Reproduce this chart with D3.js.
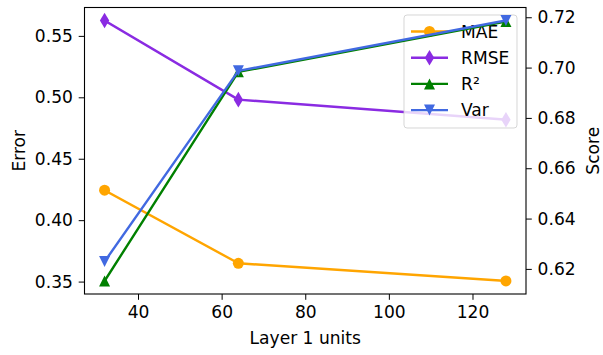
<html>
<head>
<style>
  body { margin: 0; background: #fff; }
  text { font-family: "DejaVu Sans", sans-serif; fill: #000; }
</style>
</head>
<body>
<script src="https://d3js.org/d3.v7.min.js"></script>
<script>
var units = [32, 64, 128];
var mae  = [0.4244, 0.3649, 0.3505];
var rmse = [0.5625, 0.4981, 0.4818];
var r2   = [0.6152, 0.6983, 0.7183];
var vr   = [0.6229, 0.6987, 0.7187];
var xTicks = [40, 60, 80, 100, 120];
var errTicks = [0.35, 0.40, 0.45, 0.50, 0.55];
var scoreTicks = [0.62, 0.64, 0.66, 0.68, 0.70, 0.72];

var W = 603, H = 355;
var mLeft = 84.5, mRight = 526, mTop = 7.5, mBottom = 294;
var fs = 17.1;

function pad(vals) {
    var lo = d3.min(vals), hi = d3.max(vals), m = (hi - lo) * 0.05;
    return [lo - m, hi + m];
}

var x = d3.scaleLinear().domain(pad(units)).range([mLeft, mRight]);
var yL = d3.scaleLinear().domain(pad(mae.concat(rmse))).range([mBottom, mTop]);
var yR = d3.scaleLinear().domain(pad(r2.concat(vr))).range([mBottom, mTop]);

var svg = d3.select("body").append("svg").attr("width", W).attr("height", H);

var series = [
    {name: "MAE",  vals: mae,  color: "#ffa500", marker: "circle",  y: yL},
    {name: "RMSE", vals: rmse, color: "#8a2be2", marker: "thin",    y: yL},
    {name: "R\u00b2", vals: r2, color: "#008000", marker: "up",     y: yR},
    {name: "Var",  vals: vr,   color: "#4169e1", marker: "down",    y: yR}
];

var ms = 11;
function markerPath(type) {
    var h = ms / 2;
    if (type == "circle") return d3.symbol().type(d3.symbolCircle).size(Math.PI * h * h)();
    if (type == "thin") {
        var d = ms * Math.SQRT2 / 2;
        var w = d * 0.6;
        return "M0," + (-d) + "L" + w + ",0L0," + d + "L" + (-w) + ",0Z";
    }
    if (type == "up") return "M0," + (-h) + "L" + h + "," + h + "L" + (-h) + "," + h + "Z";
    return "M0," + h + "L" + h + "," + (-h) + "L" + (-h) + "," + (-h) + "Z";
}

function drawSeries(s) {
    var line = d3.line().x(function(d, i){ return x(units[i]); })
                        .y(function(d){ return s.y(d); });
    svg.append("path").attr("d", line(s.vals))
       .attr("fill", "none").attr("stroke", s.color).attr("stroke-width", 2.4)
       .attr("stroke-linejoin", "round").attr("stroke-linecap", "square");
    svg.selectAll(null).data(s.vals).enter().append("path")
       .attr("d", markerPath(s.marker))
       .attr("transform", function(d, i){ return "translate(" + x(units[i]) + "," + s.y(d) + ")"; })
       .attr("fill", s.color);
}

// left axis lines
drawSeries(series[0]);
drawSeries(series[1]);

// axes
var xAxis = svg.append("g").attr("transform", "translate(0," + mBottom + ")")
    .call(d3.axisBottom(x).tickValues(xTicks).tickSizeOuter(0).tickSize(5.8).tickPadding(5.8));
var lAxis = svg.append("g").attr("transform", "translate(" + mLeft + ",0)")
    .call(d3.axisLeft(yL).tickValues(errTicks).tickFormat(d3.format(".2f")).tickSizeOuter(0).tickSize(5.8).tickPadding(5.8));
var rAxis = svg.append("g").attr("transform", "translate(" + mRight + ",0)")
    .call(d3.axisRight(yR).tickValues(scoreTicks).tickFormat(d3.format(".2f")).tickSizeOuter(0).tickSize(5.8).tickPadding(5.8));
[xAxis, lAxis, rAxis].forEach(function(g) {
    g.select(".domain").remove();
    g.selectAll("line").attr("stroke", "#000").attr("stroke-width", 1);
    g.selectAll("text").style("font-size", fs + "px").attr("font-family", "DejaVu Sans");
});

svg.append("rect").attr("x", mLeft).attr("y", mTop)
   .attr("width", mRight - mLeft).attr("height", mBottom - mTop)
   .attr("fill", "none").attr("stroke", "#000").attr("stroke-width", 1.1);

// legend (belongs to left axes)
var lg = svg.append("g");
lg.append("rect").attr("x", 404).attr("y", 15).attr("width", 113).attr("height", 113)
  .attr("rx", 3).attr("fill", "#fff").attr("fill-opacity", 0.8)
  .attr("stroke", "#ccc").attr("stroke-opacity", 0.8).attr("stroke-width", 1);
series.forEach(function(s, i) {
    var yy = 31.5 + i * 26.2;
    lg.append("line").attr("x1", 411).attr("x2", 448).attr("y1", yy).attr("y2", yy)
      .attr("stroke", s.color).attr("stroke-width", 2.4);
    lg.append("path").attr("d", markerPath(s.marker))
      .attr("transform", "translate(429.5," + yy + ")").attr("fill", s.color);
    lg.append("text").attr("x", 461).attr("y", yy + 6).style("font-size", fs + "px").text(s.name);
});

// right axis lines
drawSeries(series[2]);
drawSeries(series[3]);

// labels
svg.append("text").attr("x", (mLeft + mRight) / 2).attr("y", 343.5)
   .attr("text-anchor", "middle").style("font-size", fs + "px").text("Layer 1 units");
svg.append("text").attr("transform", "translate(24.5," + ((mTop + mBottom) / 2) + ") rotate(-90)")
   .attr("text-anchor", "middle").style("font-size", fs + "px").text("Error");
svg.append("text").attr("transform", "translate(599," + ((mTop + mBottom) / 2) + ") rotate(-90)")
   .attr("text-anchor", "middle").style("font-size", fs + "px").text("Score");
</script>
</body>
</html>
